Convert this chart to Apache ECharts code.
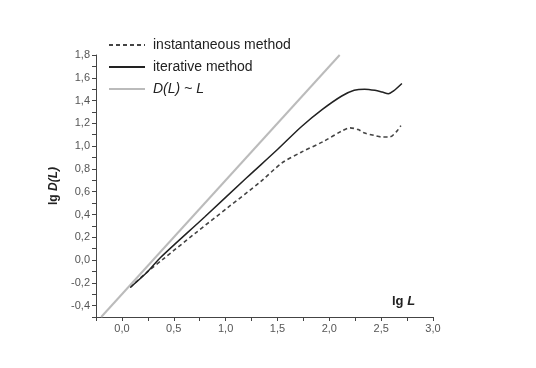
<!DOCTYPE html>
<html><head><meta charset="utf-8">
<script src="https://cdn.jsdelivr.net/npm/echarts@6/dist/echarts.min.js"></script>
<style>html,body{margin:0;padding:0;background:#fff}#c{width:536px;height:368px}</style>
</head><body><div id="c"></div>
<script>
const seriesNames = ['instantaneous method', 'iterative method', 'D(L) ~ L'];
const instX = [0.08, 0.25, 0.40, 0.70, 1.02, 1.34, 1.54, 1.73, 1.95, 2.12, 2.20, 2.28, 2.34, 2.43, 2.51, 2.58, 2.65, 2.69];
const instY = [-0.24, -0.10, 0.01, 0.23, 0.46, 0.69, 0.85, 0.947, 1.044, 1.133, 1.16, 1.145, 1.115, 1.095, 1.08, 1.08, 1.13, 1.18];
const iterX = [0.08, 0.25, 0.37, 0.80, 1.20, 1.50, 1.73, 1.93, 2.12, 2.24, 2.34, 2.44, 2.51, 2.57, 2.62, 2.70];
const iterY = [-0.24, -0.10, 0.02, 0.38, 0.72, 0.97, 1.17, 1.32, 1.44, 1.49, 1.50, 1.49, 1.475, 1.46, 1.485, 1.55];
const refX = [-0.2, 2.1];
const refY = [-0.5, 1.8];

const zip = (a, b) => a.map((v, i) => [v, b[i]]);
const fmt = v => v.toFixed(1).replace('.', ',');
const font = 'Liberation Sans, Arial, sans-serif';

const chart = echarts.init(document.getElementById('c'));
chart.setOption({
  animation: false,
  backgroundColor: '#fff',
  grid: { left: 96, right: 103, top: 55, bottom: 51 },
  legend: {
    orient: 'vertical', left: 103, top: 33, itemWidth: 36, itemHeight: 10, itemGap: 8,
    data: seriesNames,
    itemStyle: { opacity: 0 },
    textStyle: { fontFamily: font, fontSize: 14, color: '#222', padding: [0, 0, 0, 3],
      rich: { i: { fontFamily: font, fontSize: 14, fontStyle: 'italic', color: '#222' } } },
    formatter: n => n === 'D(L) ~ L' ? '{i|D(L) ~ L}' : n
  },
  xAxis: {
    type: 'value', min: -0.25, max: 3.0, interval: 0.25,
    splitLine: { show: false },
    axisLine: { onZero: false, lineStyle: { color: '#444', width: 1 } },
    axisTick: { length: 4, lineStyle: { color: '#444' } },
    axisLabel: { fontFamily: font, fontSize: 11, color: '#555', margin: 6,
      formatter: v => (Math.abs(v * 2 - Math.round(v * 2)) < 1e-6) ? fmt(v) : '' }
  },
  yAxis: {
    type: 'value', min: -0.5, max: 1.8, interval: 0.1,
    splitLine: { show: false },
    axisLine: { show: true, onZero: false, lineStyle: { color: '#444', width: 1 } },
    axisTick: { show: true, length: 4, lineStyle: { color: '#444' } },
    axisLabel: { fontFamily: font, fontSize: 11, color: '#555', margin: 6,
      formatter: v => (Math.round(v * 10) % 2 === 0) ? fmt(v) : '' },
    name: '{b|lg }{bi|D(L)}', nameLocation: 'middle', nameGap: 22, nameRotate: 90,
    nameTextStyle: { rich: {
      b: { fontFamily: font, fontSize: 12, fontWeight: 'bold', color: '#222' },
      bi: { fontFamily: font, fontSize: 12, fontWeight: 'bold', fontStyle: 'italic', color: '#222' } } }
  },
  graphic: [{
    type: 'text', left: 392, top: 295,
    style: { rich: {
      b: { fontFamily: font, fontSize: 13, fontWeight: 'bold', fill: '#222' },
      bi: { fontFamily: font, fontSize: 13, fontWeight: 'bold', fontStyle: 'italic', fill: '#222' } },
      text: '{b|lg }{bi|L}' }
  }],
  series: [
    { name: seriesNames[0], type: 'line', data: zip(instX, instY), smooth: 0.3, symbol: 'none',
      lineStyle: { color: '#444', width: 1.6, type: [4, 3] }, itemStyle: { color: '#444' } },
    { name: seriesNames[1], type: 'line', data: zip(iterX, iterY), smooth: 0.3, symbol: 'none',
      lineStyle: { color: '#222', width: 1.5 }, itemStyle: { color: '#222' } },
    { name: seriesNames[2], type: 'line', data: zip(refX, refY), symbol: 'none',
      lineStyle: { color: '#bbb', width: 2 }, itemStyle: { color: '#bbb' } }
  ]
});
</script></body></html>
